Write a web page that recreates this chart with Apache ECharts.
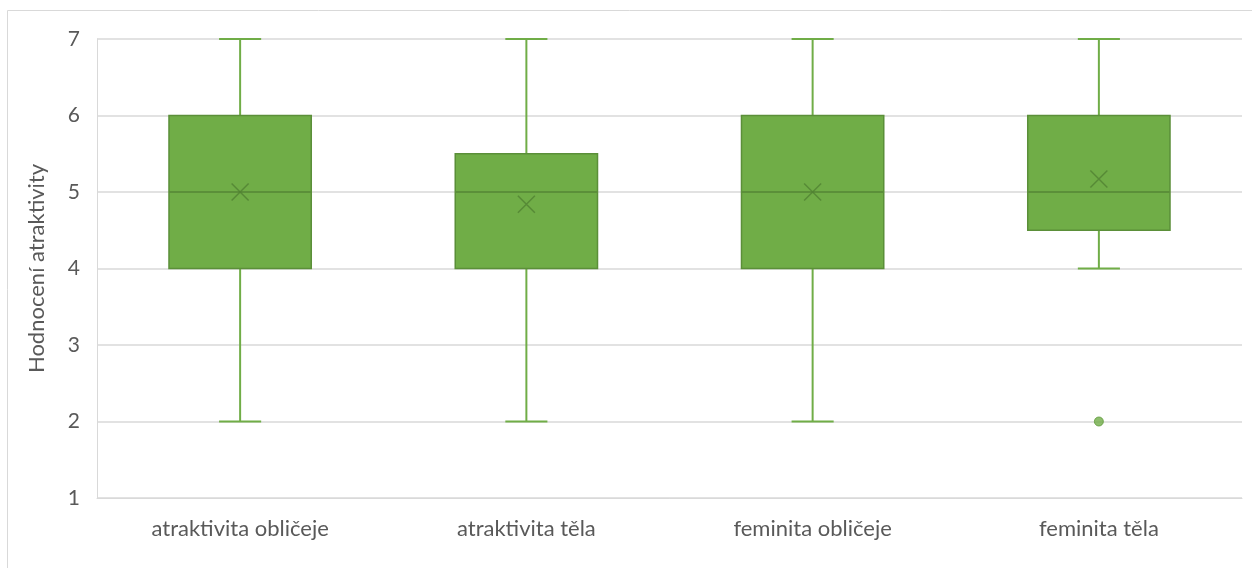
<!DOCTYPE html>
<html>
<head>
<meta charset="utf-8">
<script src="https://cdn.jsdelivr.net/npm/echarts@6/dist/echarts.min.js"></script>
<style>
  html, body { margin: 0; padding: 0; background: #ffffff; }
  #chart { width: 1252px; height: 568px; }
</style>
</head>
<body>
<div id="chart"></div>
<script>
// Categories and box statistics
const categories = ['atraktivita obličeje', 'atraktivita těla', 'feminita obličeje', 'feminita těla'];
const whiskerLow = [2, 2, 2, 4];
const q1 = [4, 4, 4, 4.5];
const median = [5, 5, 5, 5];
const q3 = [6, 5.5, 6, 6];
const whiskerHigh = [7, 7, 7, 7];
const means = [5, 4.84, 5, 5.17];
const outliers = [[3, 2]]; // [category index, value]
const yTicks = [1, 2, 3, 4, 5, 6, 7];

const GREEN = '#70ad47';
const GREEN_DARK = '#5b8f39';

const boxData = categories.map((c, i) => [i, whiskerLow[i], q1[i], median[i], q3[i], whiskerHigh[i]]);

function renderBox(params, api) {
  const idx = api.value(0);
  const band = api.size([1, 0])[0];
  const boxW = band * 0.497;
  const capW = band * 0.147;
  const pLow = api.coord([idx, api.value(1)]);
  const pQ1 = api.coord([idx, api.value(2)]);
  const pMed = api.coord([idx, api.value(3)]);
  const pQ3 = api.coord([idx, api.value(4)]);
  const pHigh = api.coord([idx, api.value(5)]);
  const x = pQ1[0];
  const lineStyle = { stroke: GREEN, lineWidth: 2 };
  return {
    type: 'group',
    children: [
      { type: 'line', shape: { x1: x, y1: pHigh[1], x2: x, y2: pQ3[1] }, style: lineStyle },
      { type: 'line', shape: { x1: x - capW / 2, y1: pHigh[1], x2: x + capW / 2, y2: pHigh[1] }, style: lineStyle },
      { type: 'line', shape: { x1: x, y1: pQ1[1], x2: x, y2: pLow[1] }, style: lineStyle },
      { type: 'line', shape: { x1: x - capW / 2, y1: pLow[1], x2: x + capW / 2, y2: pLow[1] }, style: lineStyle },
      {
        type: 'rect',
        shape: { x: x - boxW / 2, y: pQ3[1], width: boxW, height: pQ1[1] - pQ3[1] },
        style: { fill: GREEN, stroke: GREEN_DARK, lineWidth: 1.5 }
      },
      { type: 'line', shape: { x1: x - boxW / 2, y1: pMed[1], x2: x + boxW / 2, y2: pMed[1] }, style: { stroke: GREEN_DARK, lineWidth: 2 } }
    ]
  };
}

const chart = echarts.init(document.getElementById('chart'));
chart.setOption({
  animation: false,
  textStyle: { fontFamily: 'Lato, "Open Sans", sans-serif' },
  graphic: [
    {
      type: 'polyline',
      shape: { points: [[7.5, 568], [7.5, 10.5], [1252, 10.5]] },
      style: { stroke: '#d9d9d9', lineWidth: 1, fill: null },
      silent: true
    }
  ],
  grid: { left: 97, right: 10, top: 39, bottom: 70 },
  xAxis: {
    type: 'category',
    data: categories,
    axisLine: { show: true, lineStyle: { color: '#d9d9d9', width: 1 } },
    axisTick: { show: false },
    axisLabel: { color: '#595959', fontSize: 22, margin: 20 },
    splitLine: { show: false }
  },
  yAxis: {
    type: 'value',
    min: 1,
    max: 7,
    interval: 1,
    name: 'Hodnocení atraktivity',
    nameLocation: 'middle',
    nameGap: 49,
    nameRotate: 90,
    nameTextStyle: { color: '#595959', fontSize: 22 },
    axisLine: { show: true, lineStyle: { color: '#d9d9d9', width: 1 } },
    axisTick: { show: false },
    axisLabel: {
      color: '#595959', fontSize: 21, margin: 17,
      formatter: v => (yTicks.indexOf(v) >= 0 ? String(v) : '')
    },
    splitLine: { show: true, lineStyle: { color: '#d9d9d9', width: 1.5 } }
  },
  series: [
    {
      type: 'custom',
      renderItem: renderBox,
      encode: { x: 0, y: [1, 2, 3, 4, 5] },
      data: boxData,
      z: 2
    },
    {
      type: 'scatter',
      data: means.map((m, i) => [i, m]),
      symbol: 'path://M0,0 L10,10 M10,0 L0,10',
      symbolSize: 17,
      itemStyle: { color: 'none', borderColor: '#4f7f31', borderWidth: 1.5, opacity: 0.75 },
      z: 3
    },
    {
      type: 'scatter',
      data: outliers,
      symbol: 'circle',
      symbolSize: 9,
      itemStyle: { color: GREEN, borderColor: '#5e9a3a', borderWidth: 1 },
      z: 3
    }
  ]
});
</script>
</body>
</html>
